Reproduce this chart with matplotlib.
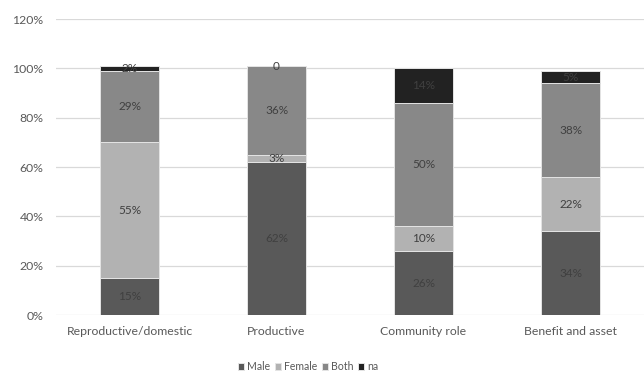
import matplotlib
matplotlib.use("Agg")
import matplotlib.pyplot as plt
import numpy as np

plt.rcParams["font.family"] = ["Lato", "DejaVu Sans"]

categories = ["Reproductive/domestic", "Productive", "Community role", "Benefit and asset"]
series = ["Male", "Female", "Both", "na"]
male = [15, 62, 26, 34]
female = [55, 3, 10, 22]
both = [29, 36, 50, 38]
na = [2, 0, 14, 5]
colors = ["#595959", "#b2b2b2", "#888888", "#222222"]

fig = plt.figure(figsize=(6.44, 3.76), dpi=100)
ax = fig.add_axes([0.087, 0.162, 0.913, 0.787])

x = np.arange(len(categories))
bottom = np.zeros(len(categories))
for name, vals, col in zip(series, [male, female, both, na], colors):
    vals = np.array(vals, dtype=float)
    ax.bar(x, vals, 0.4, bottom=bottom, color=col, edgecolor="#e4e4e4",
           linewidth=0.7, label=name, zorder=2)
    for xi, b, v in zip(x, bottom, vals):
        txt = "0" if v == 0 else f"{int(v)}%"
        ax.text(xi, b + v / 2, txt, ha="center", va="center",
                fontsize=8.5, color="#404040", zorder=3)
    bottom += vals

ax.set_xlim(-0.5, 3.5)
ax.set_ylim(0, 120)
ax.set_yticks(range(0, 121, 20))
ax.set_yticklabels([f"{v}%" for v in range(0, 121, 20)])
ax.set_xticks(x)
ax.set_xticklabels(categories)
ax.tick_params(axis="both", length=0, labelsize=8.8, colors="#595959")
ax.tick_params(axis="y", pad=9)
ax.tick_params(axis="x", pad=8)
ax.yaxis.grid(True, color="#d9d9d9", linewidth=0.9, zorder=0)
for s in ax.spines.values():
    s.set_visible(False)

fig.legend(loc="center", bbox_to_anchor=(0.478, 0.025), ncol=4, frameon=False,
           fontsize=7.6, handlelength=0.6, handleheight=0.6, handletextpad=0.25,
           columnspacing=0.45, labelcolor="#595959")

fig.savefig("out.png", dpi=100)
